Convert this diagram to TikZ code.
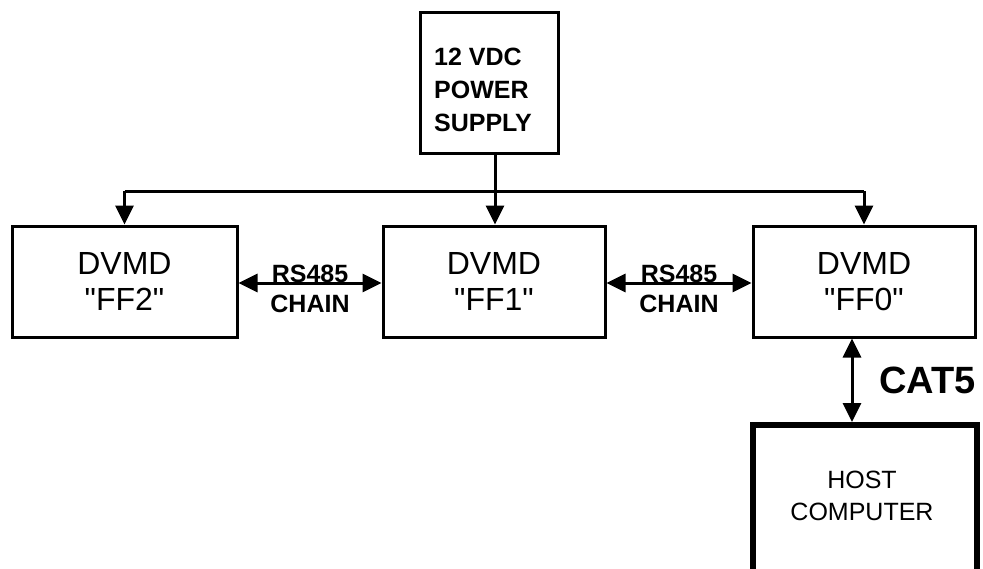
\documentclass[tikz,border=0pt]{standalone}
\usepackage{fontspec}
\setmainfont{Liberation Sans}[Ligatures=TeXOff]
\usetikzlibrary{arrows.meta}
\tikzset{
  box/.style={draw=black, line width=3pt, rectangle, inner sep=0pt, fill=white},
  dvmd/.style={box, minimum width=222pt, minimum height=111pt, align=center,
    font=\fontsize{32}{36}\selectfont},
  hostbox/.style={draw=black, line width=6pt, rectangle, inner sep=0pt,
    minimum width=224pt, minimum height=195pt},
  link/.style={line width=3pt, -{Triangle[length=19pt,width=18pt]}},
  duallink/.style={line width=3pt, {Triangle[length=19pt,width=18pt]}-{Triangle[length=19pt,width=18pt]}},
  smallbold/.style={inner sep=0pt, font=\fontsize{25}{30}\selectfont\bfseries},
  bigbold/.style={inner sep=0pt, font=\fontsize{38}{40}\selectfont\bfseries},
  plain/.style={inner sep=0pt, align=center, font=\fontsize{25}{32}\selectfont},
}
\begin{document}
\begin{tikzpicture}[x=1pt,y=-1pt]
\useasboundingbox (0,0) rectangle (983,568);
\fill[white] (0,0) rectangle (983,568);
\clip (0,0) rectangle (983,568);

% boxes
\node[box, minimum width=138pt, minimum height=141pt,
  label={[smallbold, align=left, font=\fontsize{25}{33}\selectfont\bfseries, xshift=-6pt, yshift=-7.5pt]center:12 VDC\\POWER\\SUPPLY}]
  (ps) at (489,82.5) {};
\node[dvmd, minimum width=225pt] (ff2) at (124.5,281.5) {DVMD\\"FF2"};
\node[dvmd] (ff1) at (494,281.5) {DVMD\\"FF1"};
\node[dvmd] (ff0) at (864,281.5) {DVMD\\"FF0"};
\node[hostbox, label={[plain, xshift=-3pt, yshift=26.5pt]center:HOST\\COMPUTER}]
  (host) at (865,522.5) {};

% power distribution
\coordinate (bus) at (495,191);
\coordinate (cat) at (852,381);
\draw[link] (ps.south -| bus) -- (ff1.north -| bus);
\draw[line width=3pt] (ff2.north |- bus) -- (ff0.north |- bus);
\draw[link] (ff2.north |- bus) -- (ff2.north);
\draw[link] (ff0.north |- bus) -- (ff0.north);

% RS485 chain links
\draw[duallink] (ff2.east |- 0,283) -- node[smallbold, anchor=base, yshift=1pt]{RS485}
  node[smallbold, anchor=base, yshift=-29pt]{CHAIN} (ff1.west |- 0,283);
\draw[duallink] (ff1.east |- 0,283) -- node[smallbold, anchor=base, yshift=1pt]{RS485}
  node[smallbold, anchor=base, yshift=-29pt]{CHAIN} (ff0.west |- 0,283);

% CAT5 link
\draw[duallink] (ff0.south -| cat) -- node[bigbold, anchor=west, xshift=26pt]{CAT5} (host.north -| cat);
\end{tikzpicture}
\end{document}
